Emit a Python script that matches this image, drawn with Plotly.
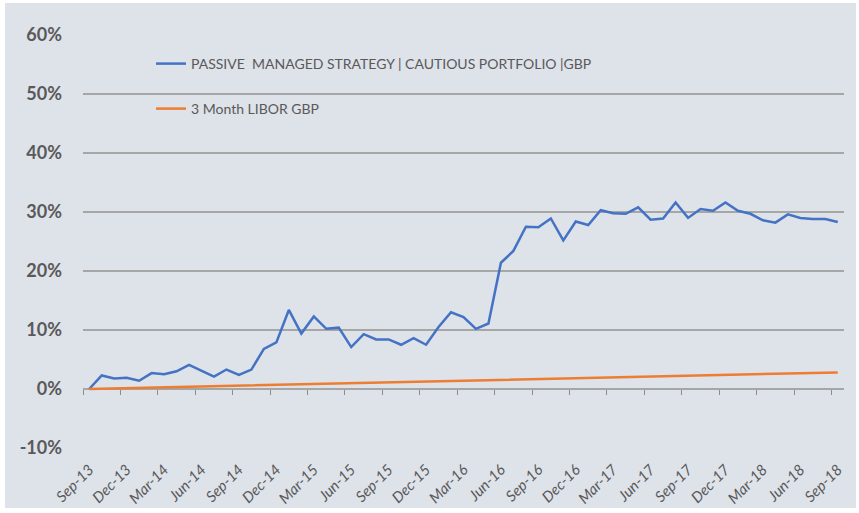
import plotly.graph_objects as go

# ---- data ----
tick_labels = ["Sep-13", "Dec-13", "Mar-14", "Jun-14", "Sep-14", "Dec-14", "Mar-15",
               "Jun-15", "Sep-15", "Dec-15", "Mar-16", "Jun-16", "Sep-16", "Dec-16",
               "Mar-17", "Jun-17", "Sep-17", "Dec-17", "Mar-18", "Jun-18", "Sep-18"]

passive = [0.0, 2.3, 1.8, 1.9, 1.4, 2.7, 2.5, 3.0, 4.1, 3.1,
           2.1, 3.3, 2.4, 3.3, 6.8, 7.9, 13.4, 9.4, 12.3, 10.2,
           10.4, 7.1, 9.3, 8.4, 8.4, 7.5, 8.6, 7.5, 10.5, 13.0,
           12.2, 10.2, 11.1, 21.4, 23.4, 27.5, 27.4, 28.9, 25.2, 28.4,
           27.8, 30.3, 29.8, 29.7, 30.8, 28.7, 28.9, 31.6, 29.0, 30.5,
           30.2, 31.6, 30.2, 29.7, 28.6, 28.2, 29.6, 29.0, 28.8, 28.8,
           28.3]

libor = [0.00, 0.05, 0.10, 0.15, 0.20, 0.25, 0.29, 0.34, 0.39, 0.44,
         0.49, 0.54, 0.59, 0.64, 0.69, 0.74, 0.78, 0.83, 0.88, 0.93,
         0.98, 1.03, 1.08, 1.13, 1.18, 1.23, 1.27, 1.32, 1.37, 1.42,
         1.47, 1.52, 1.57, 1.62, 1.67, 1.72, 1.76, 1.81, 1.86, 1.90,
         1.95, 1.99, 2.03, 2.08, 2.12, 2.16, 2.20, 2.25, 2.29, 2.33,
         2.38, 2.42, 2.46, 2.51, 2.55, 2.59, 2.63, 2.68, 2.72, 2.76,
         2.81]

y_ticks = [-10, 0, 10, 20, 30, 40, 50, 60]
y_tick_labels = ["-10%", "0%", "10%", "20%", "30%", "40%", "50%", "60%"]

n = len(passive)
idx = list(range(n))
label_pos = idx[::3]
boundary_pos = [i - 0.5 for i in idx[::3]]

# ---- layout geometry ----
W, H = 859, 513
L, R, T, B = 83, 15, 35, 65
pw, ph = W - L - R, H - T - B

def px_x(p):
    return (p - L) / pw

def px_y(p):
    return (H - B - p) / ph

BG = "#DEE2E9"
GRID = "#A6A6A6"
TXT = "#595959"
FONT = "Lato, 'Open Sans', sans-serif"

fig = go.Figure()
fig.add_trace(go.Scatter(
    x=idx, y=passive, mode="lines", xaxis="x", yaxis="y",
    name="PASSIVE  MANAGED STRATEGY | CAUTIOUS PORTFOLIO |GBP",
    line=dict(color="#4472C4", width=2.5), legend="legend", showlegend=True))
fig.add_trace(go.Scatter(
    x=idx, y=libor, mode="lines", xaxis="x2", yaxis="y",
    name="3 Month LIBOR GBP",
    line=dict(color="#ED7D31", width=2.5), legend="legend2", showlegend=True))

fig.update_layout(
    width=W, height=H,
    margin=dict(l=L, r=R, t=T, b=B, pad=0, autoexpand=False),
    paper_bgcolor="white",
    plot_bgcolor="rgba(0,0,0,0)",
    showlegend=True,
    font=dict(family=FONT, color=TXT),
    xaxis=dict(
        range=[-0.5, n - 0.5], tickvals=label_pos, ticktext=tick_labels,
        tickangle=-45, showgrid=False, zeroline=False, showline=False,
        ticks="outside", ticklen=6, tickcolor="rgba(0,0,0,0)", automargin=False,
        tickfont=dict(family=FONT, size=15, color=TXT, style="italic"),
    ),
    xaxis2=dict(
        overlaying="x", matches="x", anchor="free", position=1 / 7,
        tickvals=boundary_pos, showticklabels=False, showgrid=False,
        zeroline=False, showline=False, automargin=False,
        ticks="outside", ticklen=5, tickcolor="#8C8C8C", tickwidth=1,
    ),
    yaxis=dict(
        range=[-10, 60], tickvals=y_ticks, ticktext=y_tick_labels,
        showgrid=True, gridcolor=GRID, gridwidth=1.5,
        zeroline=True, zerolinecolor=GRID, zerolinewidth=1.5,
        showline=False, ticks="", ticklabelstandoff=20, automargin=False,
        tickfont=dict(family=FONT, size=18, color=TXT, weight="bold"),
    ),
    legend=dict(
        x=px_x(151), y=px_y(64), xanchor="left", yanchor="middle",
        bgcolor="rgba(0,0,0,0)", font=dict(family=FONT, size=14, color=TXT),
    ),
    legend2=dict(
        x=px_x(151), y=px_y(109), xanchor="left", yanchor="middle",
        bgcolor="rgba(0,0,0,0)", font=dict(family=FONT, size=14, color=TXT),
    ),
    shapes=[dict(
        type="rect", xref="paper", yref="paper", layer="below",
        x0=px_x(5), x1=px_x(856), y0=px_y(508), y1=px_y(3),
        fillcolor=BG, line=dict(width=0),
    )],
    annotations=[dict(
        text="Strategy", xref="paper", yref="paper", showarrow=False,
        x=px_x(118), y=px_y(2), xanchor="right", yanchor="bottom",
        font=dict(family=FONT, size=22, color="black", weight="bold"),
    )],
)

fig.write_html("out.html", config={"displayModeBar": False},
               post_script="document.body.style.margin='0';")
